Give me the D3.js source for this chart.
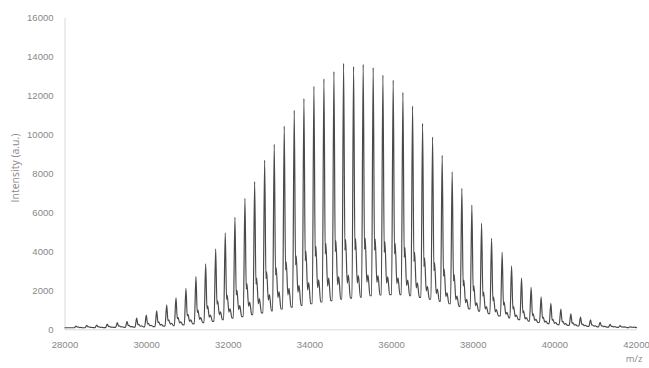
<!DOCTYPE html>
<html>
<head>
<meta charset="utf-8">
<script src="https://cdn.jsdelivr.net/npm/d3@7"></script>
<style>
  body { margin: 0; background: #fff; }
  svg { display: block; }
</style>
</head>
<body>
<svg id="chart"></svg>
<script>
// peak centres (m/z)
const peakMz = [28282, 28544, 28789, 29048, 29293, 29531, 29768, 30003, 30258, 30503,
  30731, 30975, 31220, 31458, 31703, 31938, 32175, 32420, 32658, 32903,
  33138, 33383, 33628, 33865, 34110, 34355, 34600, 34837, 35082, 35317,
  35562, 35800, 36052, 36290, 36527, 36772, 37017, 37252, 37497, 37734,
  37979, 38217, 38462, 38721, 38952, 39196, 39431, 39676, 39914, 40159,
  40404, 40641, 40886, 41121, 41366, 41611, 41849];
// main peak tops
const mainHeight = [170, 200, 220, 270, 340, 410, 580, 730, 940, 1260,
  1620, 2100, 2700, 3360, 4130, 4940, 5740, 6720, 7570, 8680,
  9490, 10420, 11230, 11825, 12460, 12840, 13210, 13640, 13470, 13590,
  13420, 13040, 12780, 12150, 11450, 10560, 9860, 8920, 8080, 7230,
  6370, 5440, 4670, 3950, 3250, 2620, 2150, 1670, 1330, 1040,
  790, 620, 480, 360, 260, 190, 130];
// first satellite peak (right shoulder)
const sat1Height = [120, 130, 135, 150, 175, 200, 260, 310, 380, 490,
  610, 770, 980, 1200, 1460, 1740, 2010, 2340, 2630, 2950,
  3150, 3450, 3750, 4000, 4250, 4400, 4530, 4600, 4640, 4670,
  4620, 4490, 4400, 4190, 3950, 3650, 3410, 3090, 2810, 2520,
  2230, 1910, 1650, 1400, 1170, 950, 790, 630, 510, 410,
  330, 270, 220, 180, 150, 125, 110];
// second satellite peak
const sat2Height = [95, 100, 105, 115, 130, 140, 175, 205, 250, 310,
  385, 480, 600, 730, 890, 1050, 1210, 1400, 1570, 1780,
  1930, 2100, 2260, 2400, 2530, 2620, 2700, 2780, 2760, 2790,
  2760, 2690, 2640, 2520, 2380, 2200, 2060, 1870, 1700, 1530,
  1360, 1170, 1010, 870, 730, 600, 510, 415, 345, 290,
  240, 205, 180, 155, 135, 120, 110];
// valley floor after each peak
const valleyHeight = [80, 85, 90, 95, 100, 110, 125, 140, 160, 190,
  230, 280, 340, 410, 490, 570, 650, 750, 840, 950,
  1040, 1140, 1230, 1310, 1400, 1470, 1540, 1600, 1650, 1720,
  1760, 1780, 1780, 1720, 1640, 1540, 1430, 1310, 1180, 1050,
  930, 800, 690, 590, 500, 420, 350, 290, 240, 200,
  170, 145, 125, 110, 100, 90, 85];
const yTicks = [0, 2000, 4000, 6000, 8000, 10000, 12000, 14000, 16000];
const xTicks = [28000, 30000, 32000, 34000, 36000, 38000, 40000, 42000];

const width = 649, height = 368;
const svg = d3.select("#chart")
    .attr("width", width)
    .attr("height", height)
    .attr("font-family", "'Open Sans', sans-serif");

const x = d3.scaleLinear().domain([28000, 42000]).range([64.5, 636]);
const y = d3.scaleLinear().domain([0, 16000]).range([329.3, 17.3]);

// y axis
const gy = svg.append("g")
    .attr("transform", "translate(64.5,0)")
    .call(d3.axisLeft(y).tickValues(yTicks).tickSize(0).tickPadding(11).tickFormat(d3.format("d")));
gy.select(".domain").attr("stroke", "#d9d9d9");
gy.selectAll("text").attr("fill", "#888").attr("font-size", 9.5);

// x axis
const gx = svg.append("g")
    .attr("transform", "translate(0,329.3)")
    .call(d3.axisBottom(x).tickValues(xTicks).tickSize(0).tickPadding(12).tickFormat(d3.format("d")));
gx.select(".domain").attr("stroke", "#d9d9d9");
gx.selectAll("text").attr("fill", "#888").attr("font-size", 9.5);

svg.append("text")
    .attr("transform", "translate(18.5,168) rotate(-90)")
    .attr("text-anchor", "middle")
    .attr("fill", "#888")
    .attr("font-size", 10.5)
    .text("Intensity (a.u.)");

svg.append("text")
    .attr("x", 634)
    .attr("y", 362)
    .attr("text-anchor", "middle")
    .attr("fill", "#888")
    .attr("font-size", 9.5)
    .text("m/z");

// build the trace vertices from the peak tables
const pts = [[28000, valleyHeight[0]]];
peakMz.forEach((m, i) => {
  const s1 = sat1Height[i], s2 = sat2Height[i], v = valleyHeight[i];
  pts.push([m - 40, (i ? valleyHeight[i - 1] : v)]);
  pts.push([m, mainHeight[i]]);
  pts.push([m + 32, s1 - (s1 - s2) * 0.3]);
  pts.push([m + 50, s1]);
  pts.push([m + 90, s2 - (s2 - v) * 0.35]);
  pts.push([m + 118, s2]);
  pts.push([m + 165, v]);
});
pts.push([42000, valleyHeight[valleyHeight.length - 1]]);

svg.append("path")
    .datum(pts)
    .attr("fill", "none")
    .attr("stroke", "#4a4a4a")
    .attr("stroke-width", 1.2)
    .attr("stroke-linejoin", "round")
    .attr("d", d3.line().curve(d3.curveMonotoneX).x(d => x(d[0])).y(d => y(d[1])));
</script>
</body>
</html>
